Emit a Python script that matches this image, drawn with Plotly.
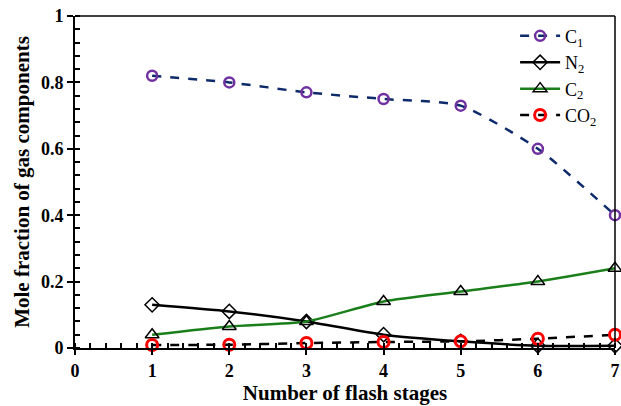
import plotly.graph_objects as go

stages = [1, 2, 3, 4, 5, 6, 7]
c1 = [0.82, 0.80, 0.77, 0.75, 0.73, 0.60, 0.40]
n2 = [0.13, 0.11, 0.08, 0.04, 0.02, 0.007, 0.007]
c2 = [0.04, 0.065, 0.08, 0.14, 0.17, 0.20, 0.24]
co2 = [0.009, 0.01, 0.015, 0.018, 0.02, 0.028, 0.04]

font = "Liberation Serif, Times New Roman, serif"

fig = go.Figure()
fig.add_trace(go.Scatter(x=stages, y=c1, name="C<sub>1</sub>", mode="lines+markers",
    line=dict(color="#0d2a6b", width=2.5, dash="dash", shape="spline", smoothing=0.6),
    marker=dict(symbol="circle-open", size=10, color="#7030a0", line=dict(width=2.5)),
    cliponaxis=False))
fig.add_trace(go.Scatter(x=stages, y=n2, name="N<sub>2</sub>", mode="lines+markers",
    line=dict(color="black", width=2.5, shape="spline", smoothing=0.6),
    marker=dict(symbol="diamond-open", size=11, color="black", line=dict(width=1.5)),
    cliponaxis=False))
fig.add_trace(go.Scatter(x=stages, y=c2, name="C<sub>2</sub>", mode="lines+markers",
    line=dict(color="#1a7f1a", width=2.5, shape="spline", smoothing=0.6),
    marker=dict(symbol="triangle-up-open", size=12, color="black", line=dict(width=1.5)),
    cliponaxis=False))
fig.add_trace(go.Scatter(x=stages, y=co2, name="CO<sub>2</sub>", mode="lines+markers",
    line=dict(color="black", width=2.5, dash="dash", shape="spline", smoothing=0.6),
    marker=dict(symbol="circle-open", size=11, color="red", line=dict(width=3)),
    cliponaxis=False))

fig.update_layout(
    width=621, height=406,
    margin=dict(l=75, r=1, t=16, b=58),
    paper_bgcolor="white", plot_bgcolor="white",
    font=dict(family=font, color="black"),
    showlegend=True,
    legend=dict(x=0.815, y=0.995, xanchor="left", yanchor="top",
                font=dict(family=font, size=18, color="black"),
                bgcolor="rgba(0,0,0,0)", tracegroupgap=0, itemwidth=40),
    xaxis=dict(range=[0, 7], dtick=1, showgrid=False, zeroline=False,
               showline=True, linecolor="black", linewidth=2,
               ticks="outside", ticklen=5, tickwidth=1.5, tickcolor="black",
               minor=dict(ticks="inside", dtick=0.2, ticklen=5, tickwidth=1.5, tickcolor="black"),
               tickfont=dict(family=font, size=18, color="black", weight="bold"),
               ticklabeloverflow="allow",
               title=dict(text="<b>Number of flash stages</b>", font=dict(family=font, size=21), standoff=6)),
    yaxis=dict(range=[0, 1], dtick=0.2, showgrid=False, zeroline=False,
               showline=True, linecolor="black", linewidth=2,
               ticks="outside", ticklen=6, tickwidth=1.5, tickcolor="black",
               minor=dict(ticks="inside", dtick=0.04, ticklen=5, tickwidth=1.5, tickcolor="black"),
               tickfont=dict(family=font, size=18, color="black", weight="bold"),
               tickformat="~g", ticklabeloverflow="allow",
               title=dict(text="<b>Mole fraction of gas components</b>", font=dict(family=font, size=21), standoff=6)),
    shapes=[
        dict(type="line", xref="paper", yref="paper", x0=0, x1=1, y0=1, y1=1, line=dict(color="black", width=1.5)),
        dict(type="line", xref="paper", yref="paper", x0=1, x1=1, y0=0, y1=1, line=dict(color="black", width=1.5)),
    ],
)

fig.write_html("out.html", config={"displayModeBar": False},
               post_script="document.body.style.margin='0';document.body.style.overflow='hidden';")
